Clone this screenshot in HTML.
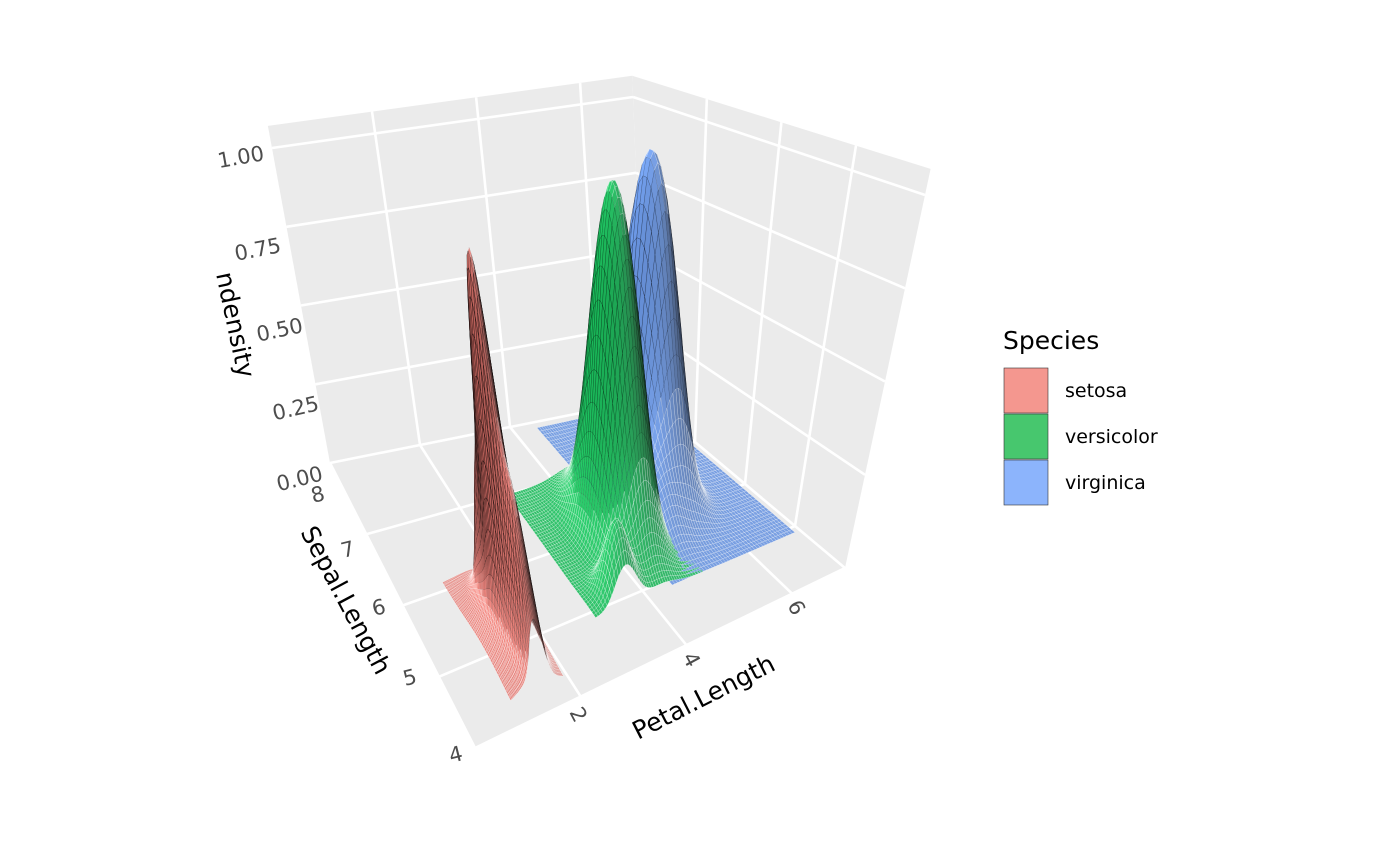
<!DOCTYPE html>
<html><head><meta charset="utf-8"><style>
html,body{margin:0;padding:0;background:#fff;}
svg{display:block;font-family:"DejaVu Sans","Liberation Sans",sans-serif;}
</style></head><body>
<svg id="s" width="1400" height="866" viewBox="0 0 1400 866" xmlns="http://www.w3.org/2000/svg">
<g id="walls"></g><g id="surf"></g>
<g fill="#4D4D4D" font-size="21" text-anchor="end">
<text transform="translate(265,160) rotate(-10)">1.00</text>
<text transform="translate(282,252) rotate(-11)">0.75</text>
<text transform="translate(304,332) rotate(-12)">0.50</text>
<text transform="translate(320,410) rotate(-13)">0.25</text>
<text transform="translate(324,480) rotate(-14)">0.00</text>
</g>
<g fill="#4D4D4D" font-size="21">
<text transform="translate(313,503) rotate(-14)">8</text>
<text transform="translate(343,558) rotate(-14)">7</text>
<text transform="translate(374,616) rotate(-14)">6</text>
<text transform="translate(405,686) rotate(-14)">5</text>
<text transform="translate(451,763) rotate(-14)">4</text>
<text transform="translate(569,712) rotate(62)">2</text>
<text transform="translate(682,657) rotate(62)">4</text>
<text transform="translate(787,605) rotate(62)">6</text>
</g>
<g fill="#000" font-size="25">
<text transform="translate(216,274) rotate(78)">ndensity</text>
<text transform="translate(300,532) rotate(62)">Sepal.Length</text>
<text transform="translate(638,740) rotate(-27)">Petal.Length</text>
<text x="1003" y="349">Species</text>
</g>
<rect x="1004" y="368" width="44" height="45" fill="#F4978F" stroke="#333" stroke-width="0.6"/>
<rect x="1004" y="414" width="44" height="45" fill="#47C76E" stroke="#333" stroke-width="0.6"/>
<rect x="1004" y="460" width="44" height="45" fill="#8CB4FC" stroke="#333" stroke-width="0.6"/>
<g font-size="19" fill="#000">
<text x="1065" y="397">setosa</text>
<text x="1065" y="443">versicolor</text>
<text x="1065" y="489">virginica</text>
</g>
</svg>
<script>
var F=[475,748],R=[845,568],B=[330,463],D=[645,400];
var Fv=[-75,-440],Rv=[80,-373],Bv=[-58,-315],Dv=[-12,-303];
function P(u,v,z){var wF=(1-u)*(1-v),wR=u*(1-v),wB=(1-u)*v,wD=u*v;
var x=F[0]*wF+R[0]*wR+B[0]*wB+D[0]*wD, y=F[1]*wF+R[1]*wR+B[1]*wB+D[1]*wD;
x+=z*(Fv[0]*wF+Rv[0]*wR+Bv[0]*wB+Dv[0]*wD); y+=z*(Fv[1]*wF+Rv[1]*wR+Bv[1]*wB+Dv[1]*wD);
return [x,y];}
function pt(p){return p[0].toFixed(1)+","+p[1].toFixed(1);}
var zt=1.07,w="";
function poly(ps,fill){return '<polygon points="'+ps.map(pt).join(" ")+'" fill="'+fill+'"/>';}
function line(a,b){return '<line x1="'+a[0].toFixed(1)+'" y1="'+a[1].toFixed(1)+'" x2="'+b[0].toFixed(1)+'" y2="'+b[1].toFixed(1)+'" stroke="#fff" stroke-width="2.6"/>';}
w+=poly([P(0,1,0),P(1,1,0),P(1,1,zt),P(0,1,zt)],"#EBEBEB");
w+=poly([P(1,0,0),P(1,1,0),P(1,1,zt),P(1,0,zt)],"#EBEBEB");
w+=poly([P(0,0,0),P(1,0,0),P(1,1,0),P(0,1,0)],"#EBEBEB");
for(var z=0;z<=1.001;z+=0.25){w+=line(P(0,1,z),P(1,1,z));w+=line(P(1,1,z),P(1,0,z));}
[2/7,4/7,6/7].forEach(function(u){w+=line(P(u,1,0),P(u,1,zt));w+=line(P(u,0,0),P(u,1,0));});
[0.25,0.5,0.75].forEach(function(v){w+=line(P(1,v,0),P(1,v,zt));w+=line(P(0,v,0),P(1,v,0));});
w+=line(P(0,0,0),P(1,0,0));w+=line(P(0,0,0),P(0,1,0));
document.getElementById("walls").innerHTML=w;
function g(x,m,s){return Math.exp(-0.5*(x-m)*(x-m)/(s*s));}
var sp=[
{c:[248,118,109],p:[0.9,1.9],s:[4.3,6.1],f:function(p,s){return g(p,1.46,0.11)*(g(s,5.0,0.22)+0.35*g(s,4.5,0.15)+0.3*g(s,5.5,0.18))+0.12*g(p,1.4,0.3)*g(s,5.0,0.5);}},
{c:[0,200,80],p:[3.0,5.1],s:[4.9,7.0],f:function(p,s){return g(p,4.3,0.28)*g(s,5.9,0.35)+0.2*g(p,3.6,0.2)*g(s,5.1,0.18)+0.1*g(p,4.6,0.5)*g(s,6.4,0.4);}},
{c:[100,155,250],p:[4.5,6.9],s:[4.9,7.9],f:function(p,s){return g(p,5.5,0.28)*g(s,6.5,0.38)+0.12*g(p,5.0,0.25)*g(s,5.8,0.3);}}];
var cells=[],N=46;
sp.forEach(function(S){
 var Z=[],mx=0;
 for(var i=0;i<=N;i++){Z[i]=[];for(var j=0;j<=N;j++){var p=S.p[0]+(S.p[1]-S.p[0])*i/N,s=S.s[0]+(S.s[1]-S.s[0])*j/N;var z=S.f(p,s);Z[i][j]=z;if(z>mx)mx=z;}}
 var du=(S.p[1]-S.p[0])/N/7,dv=(S.s[1]-S.s[0])/N/4;
 for(var i=0;i<N;i++)for(var j=0;j<N;j++){
  var u0=(S.p[0]/7)+du*i,v0=(S.s[0]-4)/4+dv*j,u1=u0+du,v1=v0+dv;
  var z00=Z[i][j]/mx,z10=Z[i+1][j]/mx,z01=Z[i][j+1]/mx,z11=Z[i+1][j+1]/mx;
  var gx=((z10+z11)-(z00+z01))/2/du*0.12,gy=((z01+z11)-(z00+z10))/2/dv*0.12;
  var nl=Math.sqrt(gx*gx+gy*gy+1),nx=-gx/nl,ny=-gy/nl,nz=1/nl;
  var d=nx*(-0.55)+ny*(0.45)+nz*0.7; var sh=0.35+0.75*Math.max(0,d);
  var flat=nz;
  var c=S.c.map(function(k){var v=k*sh;v=v*0.8+255*0.2*flat;return Math.max(0,Math.min(255,Math.round(v)));});
  var steep=1-nz;
  var st=steep>0.15?'rgba(0,0,0,'+Math.min(0.55,steep*0.8).toFixed(2)+')':'rgba(255,255,255,0.45)';
  var ps=[P(u0,v0,z00),P(u1,v0,z10),P(u1,v1,z11),P(u0,v1,z01)];
  var fy=P((u0+u1)/2,(v0+v1)/2,0)[1];
  cells.push({d:fy+((z00+z11)/2)*0.1,s:'<polygon points="'+ps.map(pt).join(" ")+'" fill="rgb('+c.join(",")+')" stroke="'+st+'" stroke-width="0.5"/>'});
 }
});
cells.sort(function(a,b){return a.d-b.d;});
document.getElementById("surf").innerHTML=cells.map(function(c){return c.s;}).join("");
</script>
</body></html>
